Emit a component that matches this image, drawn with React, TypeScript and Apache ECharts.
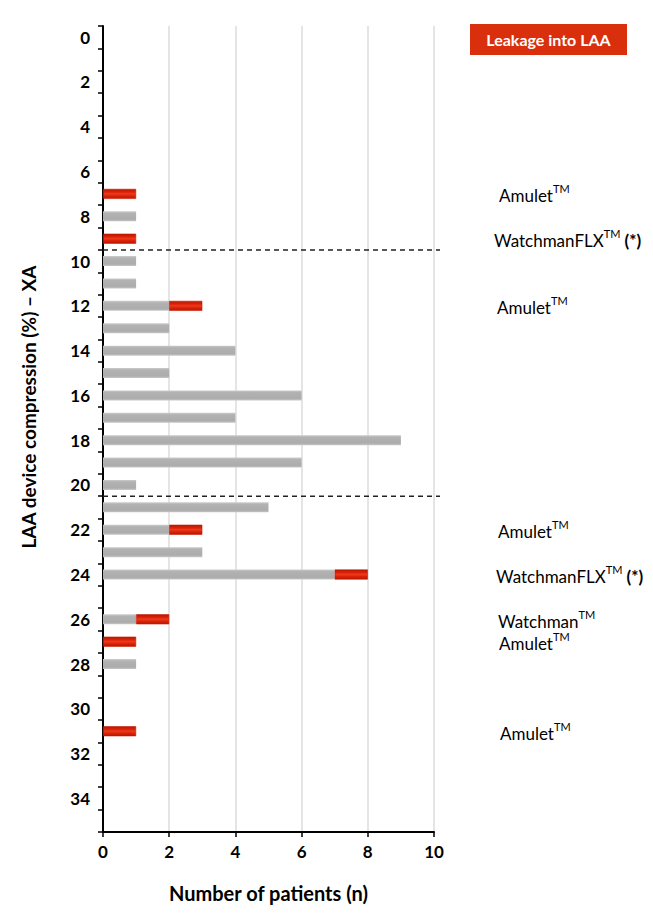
import React, { useEffect, useRef } from "react";
import * as echarts from "echarts";

const categories: string[] = Array.from({ length: 36 }, (_, i) => String(i));
// value per compression category (index = %); gray = no leak, red = leakage into LAA
const grayValues: number[] = [0,0,0,0,0,0,0,0,1,0,1,1,2,2,4,2,6,4,9,6,1,5,2,3,7,0,1,0,1,0,0,0,0,0,0,0];
const redValues: (number | null)[] = [null,null,null,null,null,null,null,1,null,1,null,null,1,null,null,null,null,null,null,null,null,null,1,null,1,null,1,1,null,null,null,1,null,null,null,null];
const annCats: string[] = ["7", "9", "12", "22", "24", "26", "27", "31"];
const annNames: string[] = ["Amulet", "WatchmanFLX", "Amulet", "Amulet", "WatchmanFLX", "Watchman", "Amulet", "Amulet"];
const annSuffix: string[] = ["", " (*)", "", "", " (*)", "", "", ""];
const annX: number[] = [499, 494, 497, 498, 496, 498, 499, 500];
const dividerAfter: string[][] = [["9", "10"], ["20", "21"]];
const xTicks = { min: 0, max: 10, interval: 2 };
const legendText = "Leakage into LAA";
const yTitle = "LAA device compression (%) \u2013 XA";
const xTitle = "Number of patients (n)";

const FONT = "Lato, 'Noto Sans', sans-serif";

export default function App() {
  const ref = useRef<HTMLDivElement>(null);
  useEffect(() => {
    if (!ref.current) return;
    const chart = echarts.init(ref.current, undefined, { renderer: "svg" });
    const grayGrad = new echarts.graphic.LinearGradient(0, 0, 0, 1, [
      { offset: 0, color: "#cbcbcb" },
      { offset: 0.2, color: "#b2b2b2" },
      { offset: 0.8, color: "#acacac" },
      { offset: 1, color: "#c8c8c8" },
    ]);
    const redGrad = new echarts.graphic.LinearGradient(0, 0, 0, 1, [
      { offset: 0, color: "#b51805" },
      { offset: 0.3, color: "#dc2208" },
      { offset: 0.5, color: "#ee3a1c" },
      { offset: 0.7, color: "#dc2208" },
      { offset: 1, color: "#b51805" },
    ]);
    const option: any = {
      animation: false,
      grid: { left: 103, right: 219, top: 26, bottom: 84, containLabel: false },
      xAxis: {
        type: "value",
        min: xTicks.min,
        max: xTicks.max,
        interval: xTicks.interval,
        name: xTitle,
        nameLocation: "middle",
        nameGap: 51,
        nameTextStyle: { fontFamily: FONT, fontWeight: "bold", fontSize: 20, color: "#000" },
        axisLine: { show: true, lineStyle: { color: "#000", width: 2 } },
        axisTick: { show: true, length: 5, lineStyle: { color: "#000", width: 1.5 } },
        axisLabel: { fontFamily: FONT, fontWeight: "bold", fontSize: 17, color: "#000", margin: 11 },
        splitLine: { show: true, lineStyle: { color: "#dcdcdc", width: 1.5 } },
      },
      yAxis: {
        type: "category",
        inverse: true,
        data: categories,
        axisLine: { show: true, lineStyle: { color: "#000", width: 2 } },
        axisTick: { show: true, interval: 0, length: 5, lineStyle: { color: "#000", width: 1.5 } },
        axisLabel: { interval: 1, fontFamily: FONT, fontWeight: "bold", fontSize: 17, color: "#000", margin: 13 },
        splitLine: { show: false },
      },
      series: [
        {
          type: "bar",
          stack: "n",
          data: grayValues,
          barWidth: 10,
          itemStyle: { color: grayGrad, borderWidth: 0 },
        },
        {
          type: "bar",
          stack: "n",
          data: redValues,
          barWidth: 10,
          itemStyle: { color: redGrad, borderColor: "#c41a04", borderWidth: 0.6 },
        },
      ],
    };
    chart.setOption(option);

    const py = (c: string) => chart.convertToPixel({ yAxisIndex: 0 }, c) as number;
    const px = (v: number) => chart.convertToPixel({ xAxisIndex: 0 }, v) as number;
    const graphics: any[] = [];
    dividerAfter.forEach(([a, b]) => {
      const y = (py(a) + py(b)) / 2;
      graphics.push({
        type: "line",
        shape: { x1: px(0), y1: y, x2: px(10) + 6, y2: y },
        style: { stroke: "#222", lineWidth: 1.5, lineDash: [5, 4] },
        z: 10,
      });
    });
    annCats.forEach((c, i) => {
      graphics.push({
        type: "text",
        x: annX[i],
        y: py(c),
        style: {
          text: `{n|${annNames[i]}}{s|TM}` + (annSuffix[i] ? `{b|${annSuffix[i]}}` : ""),
          verticalAlign: "middle",
          align: "left",
          rich: {
            n: { fontFamily: FONT, fontSize: 17, color: "#111", lineHeight: 21, verticalAlign: "bottom" },
            b: { fontFamily: FONT, fontSize: 17, fontWeight: "bold", color: "#111", lineHeight: 21, verticalAlign: "bottom" },
            s: { fontFamily: FONT, fontSize: 11, color: "#111", lineHeight: 11, verticalAlign: "top" },
          },
        },
      });
    });
    graphics.push({
      type: "text",
      x: 28,
      y: 407,
      rotation: Math.PI / 2,
      style: {
        text: yTitle,
        fill: "#000",
        fontFamily: FONT,
        fontWeight: "bold",
        fontSize: 19,
        align: "center",
        verticalAlign: "middle",
      },
    });
    graphics.push({
      type: "group",
      x: 470,
      y: 24,
      children: [
        { type: "rect", shape: { x: 0, y: 0, width: 157, height: 31 }, style: { fill: "#d92f0c" } },
        {
          type: "text",
          x: 78.5,
          y: 15.5,
          style: {
            text: legendText,
            fill: "#fff",
            fontFamily: FONT,
            fontWeight: "bold",
            fontSize: 16,
            align: "center",
            verticalAlign: "middle",
          },
        },
      ],
    });
    chart.setOption({ graphic: graphics });
    return () => chart.dispose();
  }, []);
  return <div ref={ref} style={{ width: 653, height: 916, position: "absolute", left: 0, top: 0 }} />;
}
